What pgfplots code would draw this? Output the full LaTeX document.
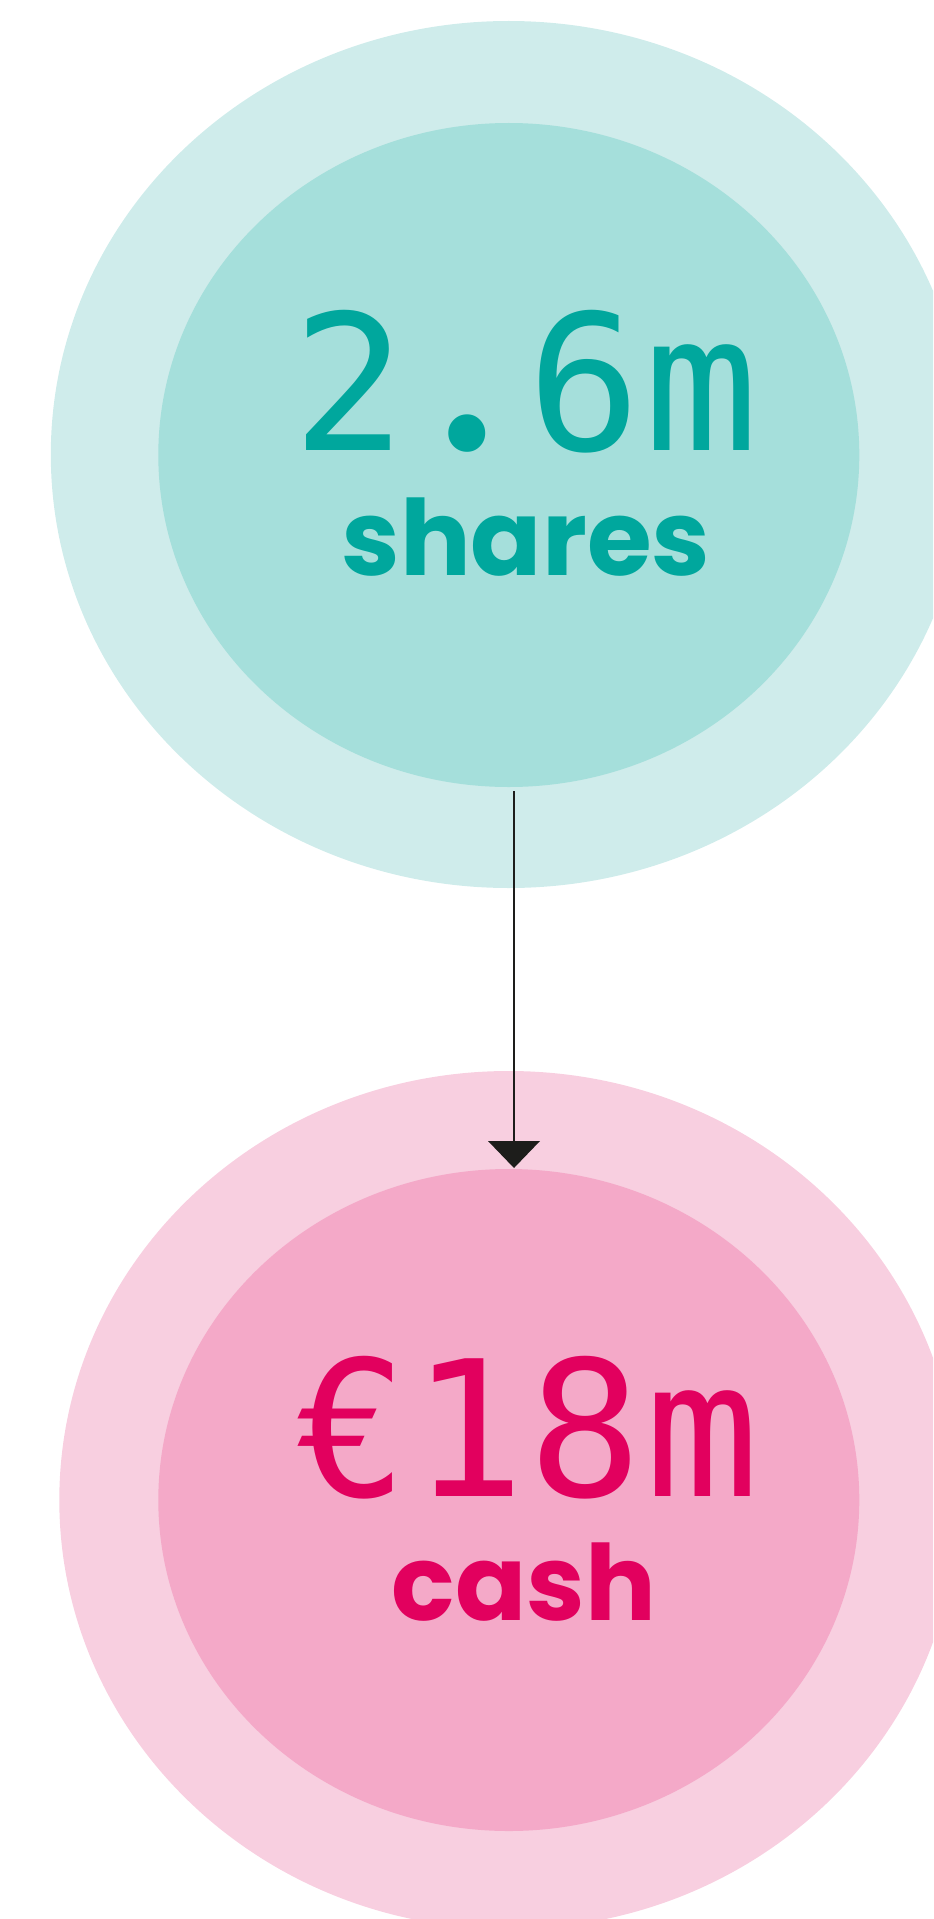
\documentclass[border=0pt]{standalone}
\usepackage{fontspec}
\usepackage{graphicx}
\usepackage{pgfplots}
\pgfplotsset{compat=1.18}
\newfontfamily\numfont{DejaVu Sans Mono}
\newfontfamily\labfont{Poppins}
\newcommand\dig[1]{\makebox[0.62em]{#1}}
\definecolor{tealout}{HTML}{CFECEB}
\definecolor{tealin}{HTML}{A5DFDB}
\definecolor{tealtext}{HTML}{00A79D}
\definecolor{pinkout}{HTML}{F8CFE0}
\definecolor{pinkin}{HTML}{F4A9C8}
\definecolor{pinktext}{HTML}{E2005E}
\definecolor{arrowc}{HTML}{1D1D1B}
\begin{document}
\begin{tikzpicture}
\begin{axis}[
  width=466.5pt, height=959.5pt, scale only axis,
  xmin=0, xmax=933, ymin=0, ymax=1919, y dir=reverse,
  hide axis, clip=true,
]
% shares circles (centre x, centre y, radii in pixels)
\fill[tealout] (axis cs:508.8,454.5) ellipse [x radius=458, y radius=433.5];
\fill[tealin]  (axis cs:508.8,455)   ellipse [x radius=350.5, y radius=332];
% cash circles
\fill[pinkout] (axis cs:508.8,1500)  ellipse [x radius=449.5, y radius=429];
\fill[pinkin]  (axis cs:508.8,1500)  ellipse [x radius=350.5, y radius=331];
% arrow
\addplot[arrowc, line width=1.4pt] coordinates {(514,791) (514,1142)};
\addplot[arrowc, fill=arrowc, draw=none] coordinates {(488,1141) (540,1141) (514,1168)} -- cycle;
% labels
\node[anchor=base, text=tealtext, inner sep=0pt] at (axis cs:525.5,450)
  {\numfont\fontsize{94.5pt}{100pt}\selectfont \dig{2}\dig{\scalebox{1.6}{\labfont .}}\dig{6}\dig{m}};
\node[anchor=base, text=tealtext, inner sep=0pt] at (axis cs:526,575)
  {\labfont\bfseries\fontsize{52.5pt}{56pt}\selectfont shares};
\node[anchor=base, text=pinktext, inner sep=0pt] at (axis cs:527,1496.7)
  {\numfont\fontsize{94.5pt}{100pt}\selectfont \dig{€}\dig{1}\dig{8}\dig{m}};
\node[anchor=base, text=pinktext, inner sep=0pt] at (axis cs:524,1620.7)
  {\labfont\bfseries\fontsize{52.5pt}{56pt}\selectfont cash};
\end{axis}
\pgfresetboundingbox
\useasboundingbox (current axis.south west) rectangle (current axis.north east);
\end{tikzpicture}
\end{document}
